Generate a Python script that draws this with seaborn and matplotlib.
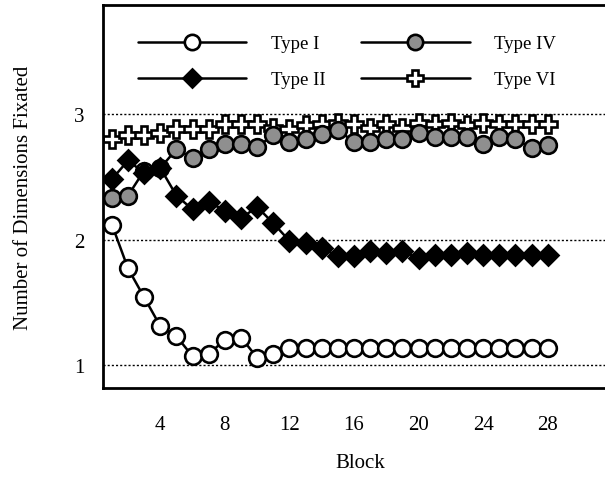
import matplotlib
matplotlib.use("Agg")
import matplotlib.pyplot as plt
import seaborn as sns

# Datos
bloques = list(range(1, 29))
tipo_I = [2.12, 1.77, 1.54, 1.31, 1.23, 1.07, 1.09, 1.20, 1.22, 1.06, 1.09,
          1.14, 1.14, 1.14, 1.14, 1.14, 1.14, 1.14, 1.14, 1.14, 1.14, 1.14,
          1.14, 1.14, 1.14, 1.14, 1.14, 1.14]
tipo_II = [2.48, 2.63, 2.53, 2.57, 2.35, 2.24, 2.30, 2.23, 2.17, 2.26, 2.13,
           1.99, 1.97, 1.93, 1.87, 1.87, 1.91, 1.89, 1.91, 1.85, 1.88, 1.88,
           1.89, 1.88, 1.88, 1.88, 1.88, 1.88]
tipo_IV = [2.33, 2.35, 2.55, 2.57, 2.72, 2.65, 2.72, 2.76, 2.76, 2.74, 2.83,
           2.78, 2.80, 2.84, 2.87, 2.78, 2.78, 2.80, 2.80, 2.85, 2.82, 2.82,
           2.82, 2.76, 2.82, 2.80, 2.73, 2.75]
tipo_VI = [2.80, 2.83, 2.83, 2.85, 2.88, 2.88, 2.88, 2.92, 2.92, 2.92, 2.89,
           2.88, 2.91, 2.92, 2.93, 2.92, 2.89, 2.92, 2.89, 2.93, 2.92, 2.93,
           2.91, 2.93, 2.92, 2.92, 2.92, 2.92]
etiquetas = ["Type I", "Type II", "Type IV", "Type VI"]
ticks_x = [4, 8, 12, 16, 20, 24, 28]
ticks_y = [1, 2, 3]

sns.set_style("white")
plt.rcParams["font.family"] = ["Liberation Serif", "DejaVu Serif"]
plt.rcParams["text.color"] = "black"
plt.rcParams["axes.labelcolor"] = "black"
plt.rcParams["xtick.color"] = "black"
plt.rcParams["ytick.color"] = "black"

fig = plt.figure(figsize=(6.05, 4.81), dpi=100)
ax = fig.add_axes([0.170, 0.191, 0.85, 0.797])

comun = dict(color="black", linewidth=1.8, markeredgecolor="black",
             markeredgewidth=1.9, ax=ax)

sns.lineplot(x=bloques, y=tipo_VI, marker="P", markersize=13,
             markerfacecolor="white", label=etiquetas[3], **comun)
sns.lineplot(x=bloques, y=tipo_IV, marker="o", markersize=12,
             markerfacecolor="#8f8f8f", label=etiquetas[2], **comun)
sns.lineplot(x=bloques, y=tipo_I, marker="o", markersize=12,
             markerfacecolor="white", label=etiquetas[0], **comun)
sns.lineplot(x=bloques, y=tipo_II, marker="D", markersize=10.5,
             markerfacecolor="black", label=etiquetas[1], **comun)

for y in ticks_y:
    ax.axhline(y, color="black", linewidth=1, linestyle=(0, (1.5, 1.5)), zorder=0)

ax.set_xlim(0.44, 32.3)
ax.set_ylim(0.817, 3.87)
ax.set_xticks(ticks_x)
ax.set_yticks(ticks_y)
ax.tick_params(axis="both", direction="out", length=7, width=2,
               labelsize=15, color="black", labelcolor="black", pad=6)
ax.tick_params(axis="x", pad=12)

for lado in ["left", "bottom", "top"]:
    ax.spines[lado].set_linewidth(2)
    ax.spines[lado].set_color("black")
ax.spines["right"].set_visible(False)

ax.set_xlabel("Block", fontsize=15, labelpad=14)
ax.set_ylabel("Number of Dimensions Fixated", fontsize=15, labelpad=30)

h, l = ax.get_legend_handles_labels()
orden = [l.index(e) for e in etiquetas]
ax.legend([h[i] for i in orden], [l[i] for i in orden], ncol=2,
          loc="upper left", bbox_to_anchor=(0.035, 0.965), frameon=False,
          fontsize=13.5, handlelength=5.8, handletextpad=1.3,
          columnspacing=1.9, labelspacing=1.0, markerscale=0.92)

fig.savefig("out.png", dpi=100)
